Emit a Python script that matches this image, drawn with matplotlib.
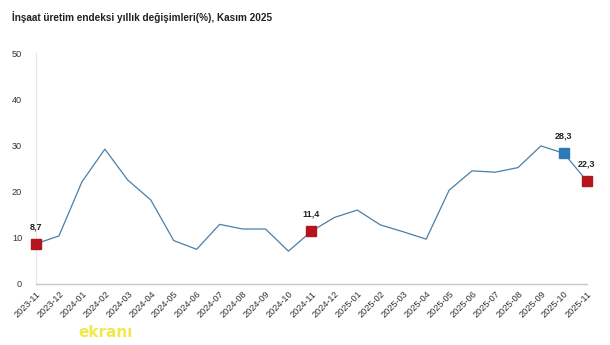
import matplotlib
matplotlib.use("Agg")
import matplotlib.pyplot as plt

plt.rcParams["font.family"] = ["Liberation Sans", "DejaVu Sans"]

title = "İnşaat üretim endeksi yıllık değişimleri(%), Kasım 2025"
months = ["2023-11", "2023-12", "2024-01", "2024-02", "2024-03", "2024-04", "2024-05",
          "2024-06", "2024-07", "2024-08", "2024-09", "2024-10", "2024-11", "2024-12",
          "2025-01", "2025-02", "2025-03", "2025-04", "2025-05", "2025-06", "2025-07",
          "2025-08", "2025-09", "2025-10", "2025-11"]
values = [8.7, 10.4, 22.1, 29.2, 22.5, 18.2, 9.4, 7.5, 12.9, 11.9, 11.9, 7.1, 11.4,
          14.4, 16.0, 12.8, 11.3, 9.7, 20.3, 24.5, 24.2, 25.2, 29.9, 28.3, 22.3]
red_points = ["2023-11", "2024-11", "2025-11"]
blue_points = ["2025-10"]
yticks = [0, 10, 20, 30, 40, 50]

fig = plt.figure(figsize=(6.1, 3.45), dpi=100)
ax = fig.add_axes([0.059, 0.177, 0.903, 0.669])
x = list(range(len(months)))
ax.plot(x, values, color="#4a7fa8", lw=0.9, zorder=2)

def fmt(v):
    return f"{v:.1f}".replace(".", ",")

for name, col in [(n, "#b3141e") for n in red_points] + [(n, "#2c7bb6") for n in blue_points]:
    i = months.index(name)
    ax.plot(i, values[i], marker="s", ms=7, color=col, mec=col, zorder=3, clip_on=False)
    ax.annotate(fmt(values[i]), (i, values[i]), xytext=(0, 9), textcoords="offset points",
                ha="center", va="bottom", fontsize=6.5, fontweight="bold", color="#222222",
                annotation_clip=False)

ax.set_xlim(0, len(months) - 1)
ax.set_ylim(0, 50)
ax.set_yticks(yticks)
ax.set_xticks(x)
ax.set_xticklabels(months, rotation=45, ha="right", rotation_mode="anchor")
ax.tick_params(axis="both", length=0, labelsize=6.6, colors="#333333")
ax.tick_params(axis="y", pad=10)
ax.tick_params(axis="x", pad=4)
for s in ["top", "right"]:
    ax.spines[s].set_visible(False)
ax.spines["left"].set_color("#e6e6e6")
ax.spines["left"].set_linewidth(0.8)
ax.spines["bottom"].set_color("#c8c8c8")
ax.spines["bottom"].set_linewidth(1.0)

fig.text(0.02, 0.952, title, fontsize=7.2, fontweight="bold", color="#222222", va="center")
fig.text(0.128, 0.035, "ekranı", fontsize=11, fontweight="bold", color="#f2e635", alpha=0.9,
         va="center", family="DejaVu Sans")

fig.savefig("out.png", dpi=100)
